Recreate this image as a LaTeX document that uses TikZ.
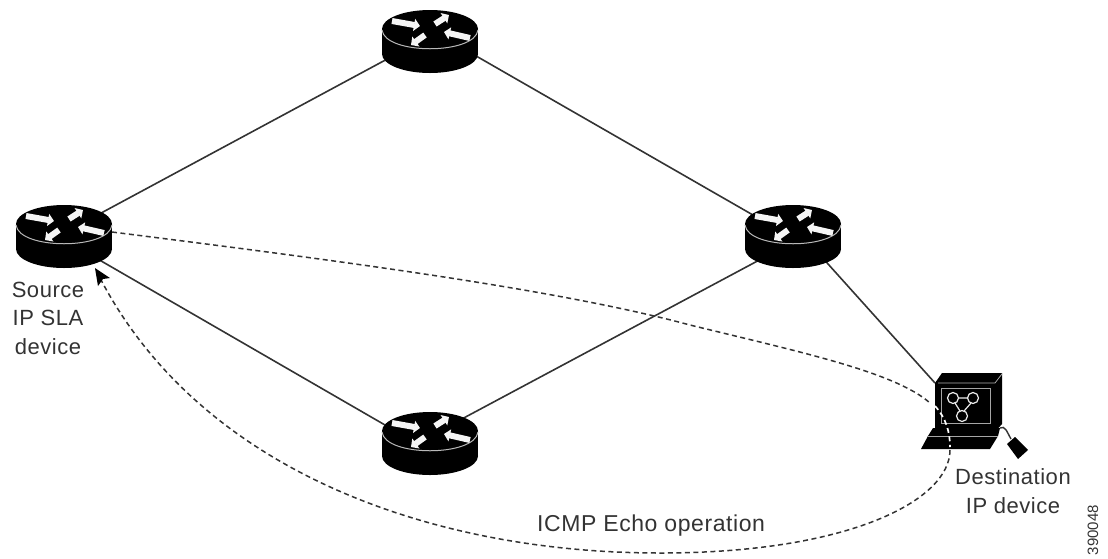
\documentclass[tikz,border=0pt]{standalone}
\usepackage{fontspec}
\setmainfont{Liberation Sans}
\newfontfamily\labelfont[LetterSpace=2.5]{Liberation Sans}
\usetikzlibrary{arrows.meta,calc}
\definecolor{ink}{gray}{0.2}
\tikzset{
  x=1pt,y=-1pt,
  hub/.style={inner sep=0pt,minimum width=96pt,minimum height=40pt},
  link/.style={draw=ink,line width=1.6pt},
  probe/.style={draw=ink,line width=1.5pt,dash pattern=on 5pt off 3.5pt},
  probewhite/.style={draw=white,line width=1.7pt,dash pattern=on 5pt off 3.5pt},
  lbl/.style={font=\fontsize{22}{28.5}\selectfont\labelfont,text=ink,align=center,inner sep=0pt},
  spoke/.style={draw=white!92!gray,line width=6pt,-{Triangle[width=12pt,length=6pt]}},
  router/.pic={
    \fill[black] (-48,-12) rectangle (48,13);
    \fill[black] (0,-12) ellipse[x radius=48,y radius=19];
    \fill[black] (0,13) ellipse[x radius=48,y radius=19];
    \draw[gray!55!white,line width=1pt] (-48,-11) .. controls (-45,14) and (45,14) .. (48,-11);
    \draw[spoke] (-38,-20) -- (-10,-15);
    \draw[spoke] (40,-3) -- (14,-9);
    \draw[spoke] (5,-17) -- (19,-26);
    \draw[spoke] (-5,-6) -- (-19,4);
  }
}
\begin{document}
\begin{tikzpicture}
\useasboundingbox (0,0) rectangle (1108,558);
\node[hub] (top) at (430,41) {};
\node[hub] (left) at (64,236) {};
\node[hub] (right) at (793,236) {};
\node[hub] (bottom) at (430,443) {};
\node[inner sep=0pt,minimum width=70pt,minimum height=70pt] (pc) at (965,412) {};
\coordinate (arrowend) at (95,268);
\coordinate (probestart) at (112,232);
\coordinate (pcin) at (935,383);
% links
\draw[link] ($(left)+(0,-3)$) -- ($(top)+(0,-5)$);
\draw[link] ($(top)+(0,-11.5)$) -- ($(right)+(0,2)$);
\draw[link] ($(left)+(0,3.5)$) -- ($(bottom)+(0,8)$);
\draw[link] ($(bottom)+(0,-7)$) -- ($(right)+(0,6)$);
\draw[link] ($(right)+(0,-11)$) -- (pcin);
% routers
\pic at (top) {router};
\pic at (left) {router};
\pic at (right) {router};
\pic at (bottom) {router};
% computer
\fill[black] (935,383) -- (942,373) -- (1002,373) -- (995,383) -- cycle;
\fill[black] (995,383) -- (1002,373) -- (1002,424) -- (995,432) -- cycle;
\fill[black] (935,383) rectangle (995,430);
\draw[gray!60!white,line width=0.7pt] (938,383) -- (995,383) -- (1002,374);
\draw[gray!70!white,line width=0.8pt] (941,388) rectangle (990,423);
\draw[white!85!gray,line width=1.2pt] (953,398) circle[radius=5.5];
\draw[white!85!gray,line width=1.2pt] (973,398) circle[radius=5.5];
\draw[white!85!gray,line width=1.2pt] (962,416) circle[radius=5.5];
\draw[white!85!gray,line width=1.2pt] (958,398) -- (968,398) (955,403) -- (960,411) (971,403) -- (964,411);
\fill[black] (933,428) -- (1000,428) -- (998,436) -- (928,436) -- cycle;
\fill[black] (928,436) -- (998,436) -- (990,449) -- (921,449) -- cycle;
\draw[gray!70!white,line width=0.6pt] (928,436) -- (998,436);
\draw[ink,line width=1.4pt] (1000,428) .. controls (1005,425) and (1007,432) .. (1011,439);
\fill[black] (1007,444) -- (1015,437) -- (1028,450) -- (1018,459) -- cycle;
% probe path
\draw[probe] (probestart) .. controls (350,262) and (560,290) .. (690,325)
  .. controls (800,352) and (895,372) .. (930,403);
\draw[probewhite] (935,406) .. controls (946,418) and (950,432) .. (950,447);
\draw[probe] (950,450) .. controls (950,500) and (850,553) .. (660,553)
  .. controls (430,553) and (200,470) .. (100,278);
\fill[black] (arrowend) -- (110,278) -- (103,279) -- (98,286) -- cycle;
% labels
\node[lbl] (src) at (48,318) {Source\\IP SLA\\device};
\node[lbl] (dst) at (1013,491) {Destination\\IP device};
\node[lbl,font=\fontsize{23}{28}\selectfont\labelfont,anchor=west] (op) at (537,526) {ICMP Echo operation};
\node[font=\fontsize{15}{17}\selectfont,text=ink,rotate=90,inner sep=0pt] (id) at (1093,530) {390048};
\end{tikzpicture}
\end{document}
